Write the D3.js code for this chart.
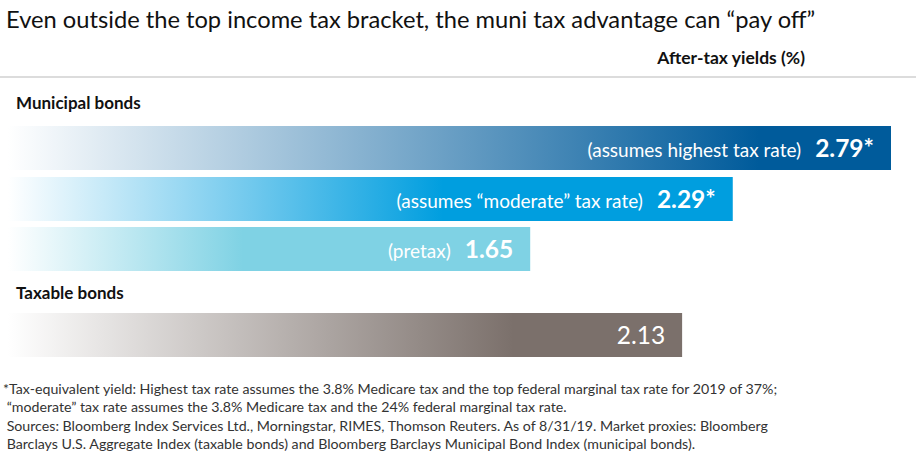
<!DOCTYPE html>
<html>
<head>
<meta charset="utf-8">
<script src="https://cdn.jsdelivr.net/npm/d3@7"></script>
<style>
  body { margin: 0; background: #fff; }
  svg { font-family: Lato, "Open Sans", sans-serif; }
</style>
</head>
<body>
<div id="chart"></div>
<script>
// chart data
var barNames = ["muniHigh", "muniModerate", "muniPretax", "taxable"];
var barValues = [2.79, 2.29, 1.65, 2.13];
var barNotes = ["(assumes highest tax rate)", "(assumes \u201cmoderate\u201d tax rate)", "(pretax)", ""];
var barLabels = ["2.79*", "2.29*", "1.65", "2.13"];
var barColors = ["#005b9b", "#009edf", "#7fd2e4", "#7b706b"];
var gradStops = [0.85, 0.6, 0.45, 0.75];
var groupLabels = ["Municipal bonds", "Taxable bonds"];

var footnotes = [
  "*Tax-equivalent yield: Highest tax rate assumes the 3.8% Medicare tax and the top federal marginal tax rate for 2019 of 37%;",
  " \u201cmoderate\u201d tax rate assumes the 3.8% Medicare tax and the 24% federal marginal tax rate.",
  " Sources: Bloomberg Index Services Ltd., Morningstar, RIMES, Thomson Reuters. As of 8/31/19. Market proxies: Bloomberg",
  " Barclays U.S. Aggregate Index (taxable bonds) and Bloomberg Barclays Municipal Bond Index (municipal bonds)."
];

var svgWidth = 916;
var svgHeight = 456;

var svg = d3.select("#chart")
  .append("svg")
  .attr("width", svgWidth)
  .attr("height", svgHeight);

// title
svg.append("text")
  .attr("x", 6)
  .attr("y", 28)
  .attr("font-size", "23.7px")
  .attr("fill", "#111")
  .text("Even outside the top income tax bracket, the muni tax advantage can \u201cpay off\u201d");

svg.append("text")
  .attr("x", 805)
  .attr("y", 64)
  .attr("text-anchor", "end")
  .attr("font-size", "17.5px")
  .attr("font-weight", "bold")
  .attr("fill", "#111")
  .text("After-tax yields (%)");

svg.append("line")
  .attr("x1", 0).attr("x2", svgWidth)
  .attr("y1", 77).attr("y2", 77)
  .attr("stroke", "#dcdcdc")
  .attr("stroke-width", 2);

// group labels
svg.append("text")
  .attr("x", 16).attr("y", 109)
  .attr("font-size", "17px").attr("font-weight", "bold").attr("fill", "#111")
  .text(groupLabels[0]);

svg.append("text")
  .attr("x", 16).attr("y", 299)
  .attr("font-size", "17px").attr("font-weight", "bold").attr("fill", "#111")
  .text(groupLabels[1]);

// scales
var xScale = d3.scaleLinear()
  .domain([0, 2.79])
  .range([8, 891]);

var yScale = d3.scaleOrdinal()
  .domain(barNames)
  .range([126, 177, 227, 313]);

var barHeight = 44;

// gradients
var defs = svg.append("defs");
barNames.forEach(function(name, i) {
  var g = defs.append("linearGradient")
    .attr("id", "grad-" + name)
    .attr("x1", "0%").attr("x2", "100%")
    .attr("y1", "0%").attr("y2", "0%");
  g.append("stop").attr("offset", "0%").attr("stop-color", "#ffffff");
  g.append("stop").attr("offset", (gradStops[i] * 100) + "%").attr("stop-color", barColors[i]);
  g.append("stop").attr("offset", "100%").attr("stop-color", barColors[i]);
});

var bars = svg.selectAll(".bar")
  .data(barNames)
  .enter()
  .append("rect")
  .attr("class", "bar")
  .attr("x", xScale(0))
  .attr("y", d => yScale(d))
  .attr("width", (d, i) => xScale(barValues[i]) - xScale(0))
  .attr("height", barHeight)
  .attr("fill", d => "url(#grad-" + d + ")");

// value labels
var labels = svg.selectAll(".val")
  .data(barNames)
  .enter()
  .append("text")
  .attr("class", "val")
  .attr("x", (d, i) => xScale(barValues[i]) - 17)
  .attr("y", d => yScale(d) + 31)
  .attr("text-anchor", "end")
  .attr("fill", "#fff");

labels.append("tspan")
  .attr("font-size", "19px")
  .text((d, i) => barNotes[i]);

labels.append("tspan")
  .attr("dx", (d, i) => barNotes[i] ? 14 : 0)
  .attr("font-size", "24.5px")
  .attr("font-weight", (d, i) => i < 3 ? "bold" : "normal")
  .text((d, i) => barLabels[i]);

// footnotes
svg.selectAll(".foot")
  .data(footnotes)
  .enter()
  .append("text")
  .attr("class", "foot")
  .attr("x", 3)
  .attr("y", (d, i) => 394 + i * 18.3)
  .attr("font-size", "14.2px")
  .attr("fill", "#333")
  .style("white-space", "pre")
  .text(d => d);
</script>
</body>
</html>
